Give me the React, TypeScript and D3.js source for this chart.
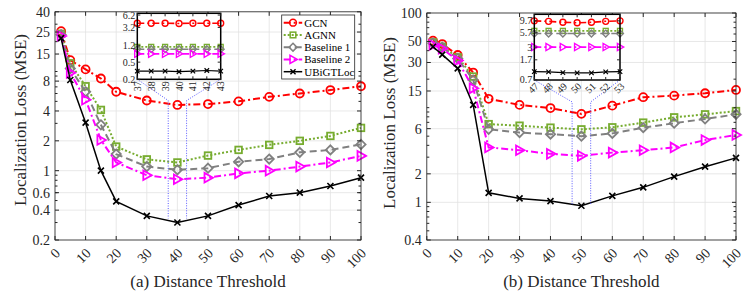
import React from 'react';
import * as d3 from 'd3';

const xValues = [2, 5, 10, 15, 20, 30, 40, 50, 60, 70, 80, 90, 100];
const xTickValues = [0, 10, 20, 30, 40, 50, 60, 70, 80, 90, 100];
const seriesNames = ['GCN', 'AGNN', 'Baseline 1', 'Baseline 2', 'UBiGTLoc'];

// panel (a)
const yTicksA = [0.2, 0.4, 0.6, 1, 2, 4, 8, 15, 25, 40];
const gcnA = [25.5, 13, 10.5, 8.5, 6.25, 5.1, 4.6, 4.7, 5.0, 5.55, 6.0, 6.5, 7.1];
const agnnA = [24, 12.1, 7.1, 4.1, 1.75, 1.3, 1.21, 1.42, 1.62, 1.82, 2.0, 2.24, 2.7];
const base1A = [23.5, 10.7, 6.25, 2.9, 1.47, 1.1, 1.02, 1.06, 1.23, 1.31, 1.53, 1.62, 1.84];
const base2A = [22.8, 9.7, 5.2, 2.04, 1.21, 0.9, 0.82, 0.85, 0.94, 1.0, 1.1, 1.21, 1.41];
const ubiA = [21.7, 8.2, 3.05, 1.0, 0.49, 0.35, 0.3, 0.35, 0.45, 0.555, 0.6, 0.7, 0.85];

const insetXA = [37, 38, 39, 40, 41, 42, 43];
const insetTicksA = [0.2, 0.5, 1.2, 3.2, 6.2];
const gcnInA = [4.0, 4.0, 4.0, 3.95, 4.0, 4.0, 4.0];
const agnnInA = [1.13, 1.13, 1.13, 1.13, 1.13, 1.13, 1.13];
const base1InA = [1.0, 1.0, 1.0, 1.0, 1.0, 1.0, 1.0];
const base2InA = [0.78, 0.78, 0.78, 0.78, 0.78, 0.78, 0.78];
const ubiInA = [0.31, 0.31, 0.31, 0.3, 0.31, 0.32, 0.31];

// panel (b)
const yTicksB = [0.4, 1, 2, 6, 15, 30, 50, 100];
const gcnB = [51, 47, 36, 23.5, 12.4, 10.7, 9.9, 8.6, 10.5, 12.9, 13.4, 14.2, 15.4];
const agnnB = [49, 44, 34, 21.3, 6.7, 6.45, 6.15, 5.9, 6.2, 6.95, 7.9, 8.5, 9.2];
const base1B = [48, 43.5, 33, 19.6, 5.9, 5.45, 5.25, 5.0, 5.35, 6.15, 6.85, 7.6, 8.5];
const base2B = [46, 42, 31.5, 16, 3.8, 3.55, 3.25, 3.1, 3.35, 3.55, 3.8, 4.55, 5.15];
const ubiB = [44, 36.3, 26, 10.7, 1.26, 1.1, 1.03, 0.92, 1.17, 1.44, 1.87, 2.38, 2.95];

const insetXB = [47, 48, 49, 50, 51, 52, 53];
const insetTicksB = [0.7, 1.7, 3, 5.7, 9.7];
const gcnInB = [9.7, 9.5, 9.1, 8.9, 9.1, 9.5, 9.7];
const agnnInB = [6.2, 6.2, 6.2, 6.2, 6.2, 6.2, 6.2];
const base1InB = [5.5, 5.5, 5.5, 5.5, 5.5, 5.5, 5.5];
const base2InB = [3.0, 3.0, 3.0, 3.0, 3.0, 3.0, 3.0];
const ubiInB = [1.0, 0.99, 0.96, 0.95, 0.95, 0.99, 1.0];

const styles = [
  { color: '#ff0000', dash: '7,3,2,3', marker: 'circle', width: 2 },
  { color: '#77ac30', dash: '2,2', marker: 'square', width: 2 },
  { color: '#808080', dash: '7,4', marker: 'diamond', width: 2 },
  { color: '#ff00ff', dash: '7,3,2,3', marker: 'triangle', width: 2 },
  { color: '#000000', dash: undefined, marker: 'cross', width: 1.5 },
];

const FONT = '"Liberation Serif", "Times New Roman", serif';
const AXIS = '#262626';
const GRID = '#e2e2e2';
const LINK = '#5a5aff';

function Marker({ type, x, y, color, s = 1 }: any) {
  const t = `translate(${x},${y})`;
  const sw = 1.8 * s;
  if (type === 'circle')
    return <circle transform={t} r={4 * s} fill="none" stroke={color} strokeWidth={sw} />;
  if (type === 'square')
    return <rect transform={t} x={-3.3 * s} y={-3.3 * s} width={6.6 * s} height={6.6 * s} fill="none" stroke={color} strokeWidth={sw} />;
  if (type === 'diamond')
    return <path transform={t} d={`M0,${-4.6 * s}L${4.6 * s},0L0,${4.6 * s}L${-4.6 * s},0Z`} fill="none" stroke={color} strokeWidth={sw} />;
  if (type === 'triangle')
    return <path transform={t} d={`M${5 * s},0L${-3.5 * s},${-4.8 * s}L${-3.5 * s},${4.8 * s}Z`} fill="none" stroke={color} strokeWidth={sw} />;
  const c = 3 * s;
  return <path transform={t} d={`M${-c},${-c}L${c},${c}M${-c},${c}L${c},${-c}`} stroke={color} strokeWidth={1.6 * s} />;
}

function minorTicks(domain: number[], major: number[]) {
  const out: number[] = [];
  for (let k = -2; k <= 3; k++) {
    for (let m = 1; m <= 9; m++) {
      const v = m * Math.pow(10, k);
      if (v >= domain[0] && v <= domain[1] && !major.includes(v)) out.push(v);
    }
  }
  return out;
}

function Series({ xs, ys, x, y, style, s = 1 }: any) {
  const pts = xs.map((d: number, i: number) => [x(d), y(ys[i])] as [number, number]);
  const path = d3.line()(pts) || '';
  return (
    <g>
      <path d={path} fill="none" stroke={style.color} strokeWidth={style.width * (s < 1 ? 0.8 : 1)} strokeDasharray={style.dash} />
      {pts.map((p: number[], i: number) => (
        <Marker key={i} type={style.marker} x={p[0]} y={p[1]} color={style.color} s={s} />
      ))}
    </g>
  );
}

function Inset({ box, xs, yDomain, yTicks, data, rotate }: any) {
  const x = d3.scaleLinear().domain([xs[0], xs[xs.length - 1]]).range([box.left, box.right]);
  const y = d3.scaleLog().domain(yDomain).range([box.bottom, box.top]);
  return (
    <g>
      <rect x={box.left} y={box.top} width={box.right - box.left} height={box.bottom - box.top} fill="#fff" />
      {data.map((ys: number[], i: number) => (
        <Series key={i} xs={xs} ys={ys} x={x} y={y} style={styles[i]} s={0.75} />
      ))}
      <rect x={box.left} y={box.top} width={box.right - box.left} height={box.bottom - box.top} fill="none" stroke="#000" strokeWidth={1.5} />
      {yTicks.map((t: number) => (
        <g key={t}>
          <line x1={box.left} x2={box.left + 3} y1={y(t)} y2={y(t)} stroke={AXIS} />
          <line x1={box.right} x2={box.right - 3} y1={y(t)} y2={y(t)} stroke={AXIS} />
          <text x={box.left - 2} y={y(t)} dy="0.35em" textAnchor="end" fontSize={10} fill={AXIS}>{t}</text>
        </g>
      ))}
      {xs.map((t: number) => (
        <g key={t}>
          <line x1={x(t)} x2={x(t)} y1={box.bottom} y2={box.bottom - 3} stroke={AXIS} />
          <line x1={x(t)} x2={x(t)} y1={box.top} y2={box.top + 3} stroke={AXIS} />
          {rotate === 90 ? (
            <text transform={`translate(${x(t) + 3.5},${box.bottom + 2}) rotate(-90)`} textAnchor="end" fontSize={10} fill={AXIS}>{t}</text>
          ) : (
            <text transform={`translate(${x(t) + 5},${box.bottom + 7}) rotate(-45)`} textAnchor="end" fontSize={10} fill={AXIS}>{t}</text>
          )}
        </g>
      ))}
    </g>
  );
}

function Legend({ left, top }: any) {
  const w = 73;
  const h = 64;
  return (
    <g>
      <rect x={left} y={top} width={w} height={h} fill="#fff" stroke={AXIS} strokeWidth={0.8} />
      {seriesNames.map((n, i) => {
        const cy = top + 7.7 + i * 12.25;
        const st = styles[i];
        return (
          <g key={n}>
            <line x1={left + 2} x2={left + 20.5} y1={cy} y2={cy} stroke={st.color} strokeWidth={st.width} strokeDasharray={st.dash} />
            <Marker type={st.marker} x={left + 11.3} y={cy} color={st.color} s={0.85} />
            <text x={left + 22.5} y={cy} dy="0.35em" fontSize={11} fill="#000">{n}</text>
          </g>
        );
      })}
    </g>
  );
}

function Panel({ left, right, top, bottom, yDomain, yTicks, data, caption, labelX, labelY, inset, zoom, legend }: any) {
  const x = d3.scaleLinear().domain([0, 100]).range([left, right]);
  const y = d3.scaleLog().domain(yDomain).range([bottom, top]);
  const minors = minorTicks(yDomain, yTicks);
  const ib = inset.box;
  const zx0 = x(zoom.xs[0]);
  const zx1 = x(zoom.xs[1]);
  const zTop = y(zoom.ys[1]);
  const zBot = y(zoom.ys[0]);
  return (
    <g>
      {xTickValues.map((t) => (
        <line key={'gx' + t} x1={x(t)} x2={x(t)} y1={top} y2={bottom} stroke={GRID} strokeWidth={0.8} />
      ))}
      {yTicks.map((t: number) => (
        <line key={'gy' + t} x1={left} x2={right} y1={y(t)} y2={y(t)} stroke={GRID} strokeWidth={0.8} />
      ))}
      {data.map((ys: number[], i: number) => (
        <Series key={i} xs={xValues} ys={ys} x={x} y={y} style={styles[i]} />
      ))}
      <g stroke={LINK} strokeWidth={1} strokeDasharray="1,1.5" fill="none">
        <path d={`M${ib.left},${ib.bottom}L${zx0},${zTop}L${zx0},${zBot}`} />
        <path d={`M${ib.right},${ib.bottom}L${zx1},${zTop}L${zx1},${zBot}`} />
      </g>
      <rect x={left} y={top} width={right - left} height={bottom - top} fill="none" stroke={AXIS} strokeWidth={0.8} />
      {yTicks.map((t: number) => (
        <g key={'ty' + t}>
          <line x1={left} x2={left + 4} y1={y(t)} y2={y(t)} stroke={AXIS} />
          <line x1={right} x2={right - 4} y1={y(t)} y2={y(t)} stroke={AXIS} />
          <text x={left - 5} y={y(t)} dy="0.35em" textAnchor="end" fontSize={14} fill={AXIS}>{t}</text>
        </g>
      ))}
      {minors.map((t) => (
        <g key={'m' + t}>
          <line x1={left} x2={left + 2.5} y1={y(t)} y2={y(t)} stroke={AXIS} />
          <line x1={right} x2={right - 2.5} y1={y(t)} y2={y(t)} stroke={AXIS} />
        </g>
      ))}
      {xTickValues.map((t) => (
        <g key={'tx' + t}>
          <line x1={x(t)} x2={x(t)} y1={bottom} y2={bottom - 4} stroke={AXIS} />
          <line x1={x(t)} x2={x(t)} y1={top} y2={top + 4} stroke={AXIS} />
          <text transform={`translate(${x(t) + 6},${bottom + 14}) rotate(-45)`} textAnchor="end" fontSize={14} fill={AXIS}>{t}</text>
        </g>
      ))}
      <Inset box={ib} xs={inset.xs} yDomain={inset.yDomain} yTicks={inset.yTicks} data={inset.data} rotate={inset.rotate} />
      {legend && <Legend left={legend.left} top={legend.top} />}
      <text transform={`translate(${labelX},${labelY}) rotate(-90)`} textAnchor="middle" fontSize={17} fill={AXIS}>Localization Loss (MSE)</text>
      <text x={(left + right) / 2} y={287} textAnchor="middle" fontSize={17} fill={AXIS}>{caption}</text>
    </g>
  );
}

export default function App() {
  return (
    <svg width={753} height={298} style={{ position: 'absolute', left: 0, top: 0, background: '#fff' }} fontFamily={FONT}>
      <Panel
        left={55}
        right={361}
        top={11.8}
        bottom={240}
        yDomain={[0.2, 40]}
        yTicks={yTicksA}
        data={[gcnA, agnnA, base1A, base2A, ubiA]}
        caption="(a) Distance Threshold"
        labelX={26}
        labelY={120}
        zoom={{ xs: [37, 43], ys: [0.33, 5.1] }}
        inset={{
          box: { left: 137.3, right: 220.7, top: 13.3, bottom: 79.3 },
          xs: insetXA,
          yDomain: [0.2, 6.8],
          yTicks: insetTicksA,
          data: [gcnInA, agnnInA, base1InA, base2InA, ubiInA],
          rotate: 90,
        }}
        legend={{ left: 281.7, top: 15 }}
      />
      <Panel
        left={426.8}
        right={736}
        top={13}
        bottom={240}
        yDomain={[0.4, 100]}
        yTicks={yTicksB}
        data={[gcnB, agnnB, base1B, base2B, ubiB]}
        caption="(b) Distance Threshold"
        labelX={394.5}
        labelY={123}
        zoom={{ xs: [47, 53], ys: [0.95, 11.5] }}
        inset={{
          box: { left: 534.3, right: 620, top: 14.3, bottom: 80 },
          xs: insetXB,
          yDomain: [0.69, 13],
          yTicks: insetTicksB,
          data: [gcnInB, agnnInB, base1InB, base2InB, ubiInB],
          rotate: 45,
        }}
      />
    </svg>
  );
}
